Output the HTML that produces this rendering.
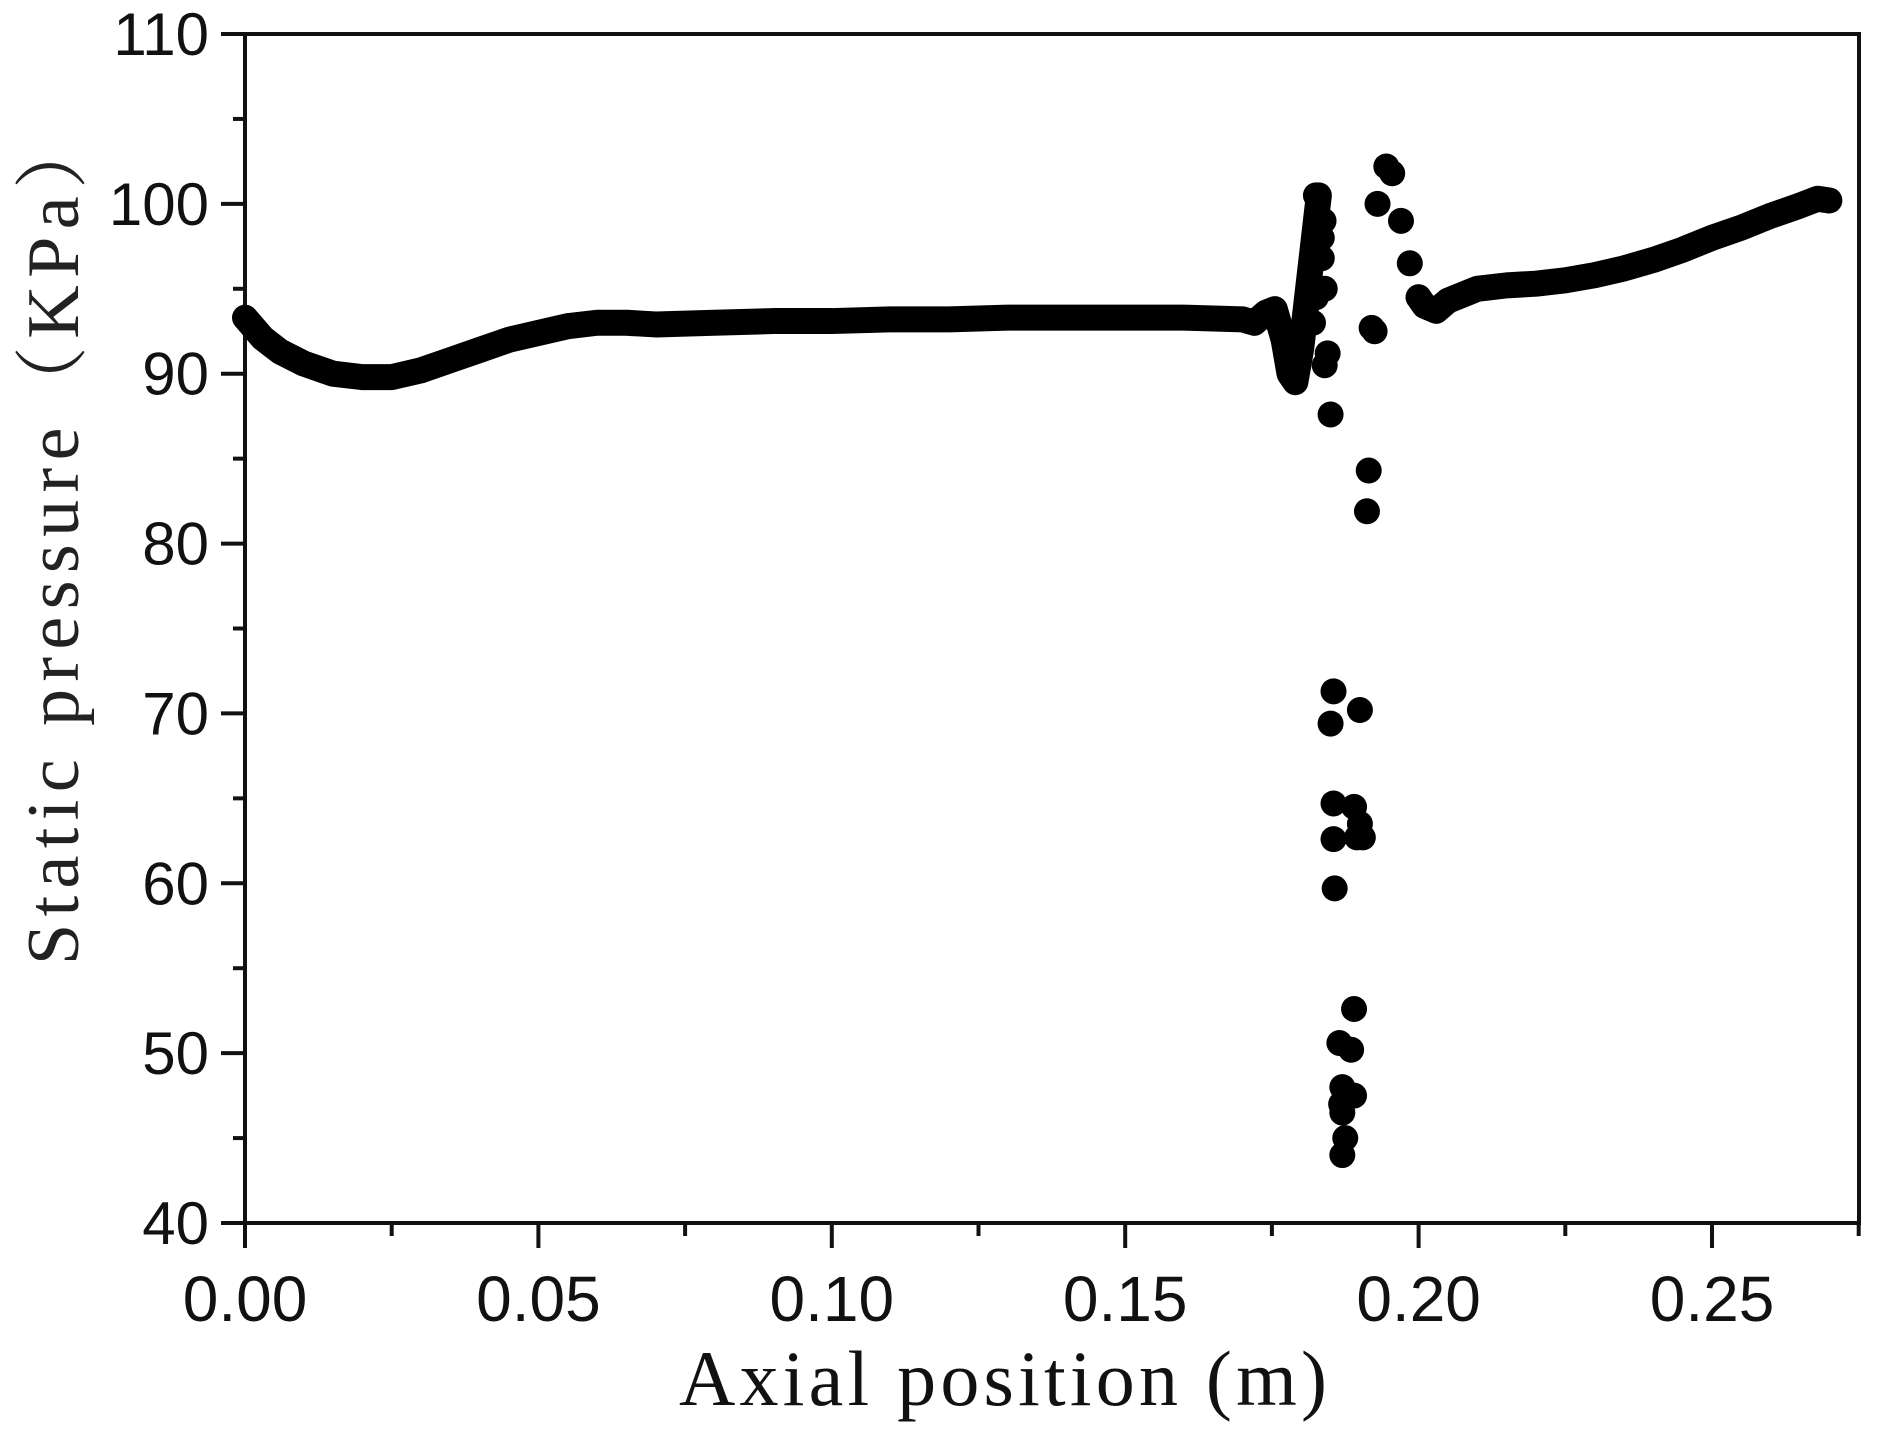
<!DOCTYPE html>
<html><head><meta charset="utf-8"><style>html,body{margin:0;padding:0;background:#fff}svg{display:block}</style></head>
<body>
<svg id="chart" width="1877" height="1438" viewBox="0 0 1877 1438" xmlns="http://www.w3.org/2000/svg">
<rect width="1877" height="1438" fill="#fff"/>
<g id="axes"></g>
<g id="marks"></g>
<text x="1003" y="1405" font-family="Liberation Serif, serif" font-size="78" text-anchor="middle" textLength="648" fill="#111">Axial position (m)</text>
<text transform="translate(78,540) rotate(-90)" font-family="Liberation Serif, 'Noto Serif CJK SC', serif" font-size="74" text-anchor="middle" textLength="850" fill="#222">Static pressure（KPa）</text>
</svg>
<script>
const xTicks = [0, 0.05, 0.10, 0.15, 0.20, 0.25];
const xTickLabels = ["0.00", "0.05", "0.10", "0.15", "0.20", "0.25"];
const yTicks = [40, 50, 60, 70, 80, 90, 100, 110];
const yTickLabels = ["40", "50", "60", "70", "80", "90", "100", "110"];
// main curve (dense band)
const curveX = [0,0.003,0.006,0.01,0.015,0.02,0.025,0.03,0.035,0.04,0.045,0.05,0.055,0.06,0.065,0.07,0.08,0.09,0.10,0.11,0.12,0.13,0.14,0.15,0.16,0.17,0.172,0.174,0.1755,0.177,0.178,0.179,0.180,0.181,0.182,0.183];
const curveY = [93.3,92.1,91.3,90.6,90.0,89.8,89.8,90.2,90.8,91.4,92.0,92.4,92.8,93.0,93.0,92.9,93.0,93.1,93.1,93.2,93.2,93.3,93.3,93.3,93.3,93.2,93.0,93.6,93.8,92.0,90.0,89.5,91.5,94.5,97.5,100.5];
// scattered points
const ptsX = [0.1825,0.183,0.1835,0.1835,0.1845,0.184,0.185,0.1855,0.185,0.1855,0.1855,0.1857,0.1865,0.187,0.187,0.1875,0.187,0.1868,0.1885,0.189,0.189,0.189,0.1895,0.19,0.19,0.1905,0.1915,0.1912,0.192,0.1925,0.193,0.1945,0.1955,0.197,0.1985,0.2,0.1815,0.182,0.1825,0.184,0.1838,0.1795,0.1785];
const ptsY = [100.5,99,98,96.8,91.2,90.5,87.6,71.3,69.4,64.7,62.6,59.7,50.6,48,46.5,45,44,47,50.2,52.6,47.5,64.5,62.7,70.2,63.5,62.7,84.3,81.9,92.7,92.5,100,102.2,101.8,99,96.5,94.5,95.5,93,94.5,95,99,90.5,91];
// right curve
const curve2X = [0.2,0.201,0.203,0.205,0.21,0.215,0.22,0.225,0.23,0.235,0.24,0.245,0.25,0.255,0.26,0.265,0.268,0.27];
const curve2Y = [94.5,94.0,93.7,94.3,95.0,95.2,95.3,95.5,95.8,96.2,96.7,97.3,98.0,98.6,99.3,99.9,100.3,100.2];

const L=245,R=1859,T=34,B=1223;
const sx=v=>L+(v/0.25)*(1712-L);
const sy=v=>B-(v-40)/70*(B-T);
const NS="http://www.w3.org/2000/svg";
function mk(tag,attrs,parent){const e=document.createElementNS(NS,tag);for(const k in attrs)e.setAttribute(k,attrs[k]);parent.appendChild(e);return e;}
const ax=document.getElementById('axes'), mg=document.getElementById('marks');
let e=mk('rect',{x:L,y:T,width:R-L,height:B-T,fill:'none',stroke:'#111','stroke-width':4},ax);


yTicks.forEach((v,i)=>{
  let t=mk('line',{x1:L-24,x2:L,y1:sy(v),y2:sy(v),stroke:'#111','stroke-width':4},ax);
  
  
  if(i<yTicks.length-1){let m=mk('line',{x1:L-12,x2:L,y1:sy(v+5),y2:sy(v+5),stroke:'#111','stroke-width':4},ax);
  
  }
  let lb=mk('text',{x:L-36,y:sy(v)+21,'text-anchor':'end','font-family':'Liberation Sans, sans-serif','font-size':60,fill:'#111'},ax);
  lb.textContent=yTickLabels[i];
  
  
});
xTicks.forEach((v,i)=>{
  let t=mk('line',{x1:sx(v),x2:sx(v),y1:B,y2:B+25,stroke:'#111','stroke-width':4},ax);
  
  
  let m=mk('line',{x1:sx(v+0.025),x2:sx(v+0.025),y1:B,y2:B+13,stroke:'#111','stroke-width':4},ax);
  
  
  let lb=mk('text',{x:sx(v),y:B+98,'text-anchor':'middle','font-family':'Liberation Sans, sans-serif','font-size':64,fill:'#111'},ax);
  lb.textContent=xTickLabels[i];
  
  
});
function band(xs,ys,name){
  let p=mk('polyline',{points:xs.map((x,i)=>sx(x)+','+sy(ys[i])).join(' '),fill:'none',stroke:'#000','stroke-width':26,'stroke-linejoin':'round','stroke-linecap':'round'},mg);
  
  
}
band(curveX,curveY,'pressure-curve-left');
band(curve2X,curve2Y,'pressure-curve-right');
ptsX.forEach((x,i)=>{
  let c=mk('circle',{cx:sx(x),cy:sy(ptsY[i]),r:13,fill:'#000'},mg);
  
  
});
</script>
</body></html>
